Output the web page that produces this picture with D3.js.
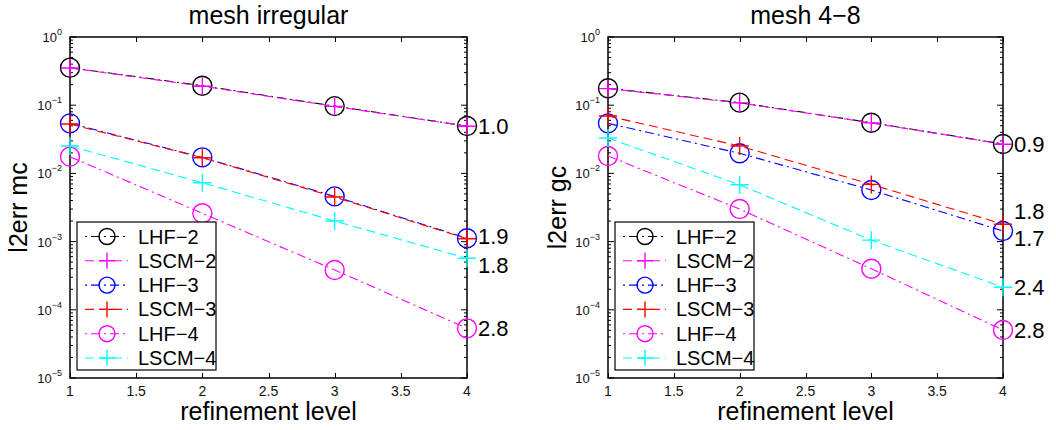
<!DOCTYPE html>
<html>
<head>
<meta charset="utf-8">
<script src="https://cdn.jsdelivr.net/npm/d3@7"></script>
<style>
  html, body { margin: 0; padding: 0; background: #fff; }
  svg { display: block; font-family: "Liberation Sans", Arial, Helvetica, sans-serif; }
</style>
</head>
<body>
<svg id="chart" width="1056" height="430"></svg>
<script>
// Refinement levels on the x axis
const levels = [1, 2, 3, 4];
const xTicks = [1, 1.5, 2, 2.5, 3, 3.5, 4];
const yDecades = [0, -1, -2, -3, -4, -5];

// Series names (legend order = draw order)
const seriesNames = ["LHF\u22122", "LSCM\u22122", "LHF\u22123", "LSCM\u22123", "LHF\u22124", "LSCM\u22124"];
const seriesColors = ["#000000", "#ff00ff", "#0000ff", "#ff0000", "#ff00ff", "#00ffff"];
const seriesMarkers = ["circle", "plus", "circle", "plus", "circle", "plus"];
const seriesDash = ["dashdot", "dash", "dashdot", "dash", "dashdot", "dash"];

// Mean-curvature error, irregular mesh
const irrLHF2  = [0.355, 0.193, 0.097, 0.0495];
const irrLSCM2 = [0.352, 0.190, 0.096, 0.0492];
const irrLHF3  = [0.0542, 0.0172, 0.0046, 0.00112];
const irrLSCM3 = [0.0530, 0.0170, 0.0045, 0.00110];
const irrLHF4  = [0.0176, 0.0026, 0.000384, 0.0000535];
const irrLSCM4 = [0.0252, 0.0073, 0.0020, 0.00057];

// Gaussian-curvature error, 4-8 mesh
const m48LHF2  = [0.177, 0.109, 0.0554, 0.0270];
const m48LSCM2 = [0.175, 0.108, 0.0550, 0.0268];
const m48LHF3  = [0.0542, 0.0197, 0.0057, 0.00143];
const m48LSCM3 = [0.0695, 0.0252, 0.0069, 0.00180];
const m48LHF4  = [0.0180, 0.0030, 0.00040, 0.0000506];
const m48LSCM4 = [0.0330, 0.0068, 0.00105, 0.000214];

// Convergence-rate labels at the last level ("" = no label)
const irrRates = ["1.0", "", "1.9", "", "2.8", "1.8"];
const m48Rates = ["0.9", "", "1.7", "1.8", "2.8", "2.4"];

const panels = [
  { title: "mesh irregular", ylabel: "l2err mc",
    series: [irrLHF2, irrLSCM2, irrLHF3, irrLSCM3, irrLHF4, irrLSCM4],
    rates: irrRates, rateDy: [0, 0, -2, 0, 0, 7],
    left: 70, right: 467, ylabX: 18 },
  { title: "mesh 4\u22128", ylabel: "l2err gc",
    series: [m48LHF2, m48LSCM2, m48LHF3, m48LSCM3, m48LHF4, m48LSCM4],
    rates: m48Rates, rateDy: [0, 0, 7, -13, 0, 0],
    left: 608, right: 1003, ylabX: 557 }
];

const plotTop = 37, plotBottom = 378;
const svg = d3.select("#chart");
const dashes = { dash: "9,5", dashdot: "9,4,2,4" };

function drawMarker(g, type, cx, cy, color, r) {
  if (type === "circle") {
    g.append("circle").attr("cx", cx).attr("cy", cy).attr("r", r)
      .attr("fill", "none").attr("stroke", color).attr("stroke-width", 1.4);
  } else {
    g.append("path")
      .attr("d", `M${cx - r},${cy}H${cx + r}M${cx},${cy - r}V${cy + r}`)
      .attr("stroke", color).attr("stroke-width", 1.4).attr("fill", "none");
  }
}

panels.forEach(p => {
  const g = svg.append("g");
  const x = d3.scaleLinear().domain([1, 4]).range([p.left, p.right]);
  const y = d3.scaleLog().domain([1e-5, 1]).range([plotBottom, plotTop]);

  // Box
  g.append("rect").attr("x", p.left).attr("y", plotTop)
    .attr("width", p.right - p.left).attr("height", plotBottom - plotTop)
    .attr("fill", "none").attr("stroke", "#000").attr("stroke-width", 1.5);

  // X ticks (bottom and top, inward)
  const tickG = g.append("g").attr("stroke", "#000").attr("stroke-width", 1);
  xTicks.forEach(t => {
    const xx = Math.round(x(t)) + 0.5;
    tickG.append("line").attr("x1", xx).attr("x2", xx).attr("y1", plotBottom).attr("y2", plotBottom - 5);
    tickG.append("line").attr("x1", xx).attr("x2", xx).attr("y1", plotTop).attr("y2", plotTop + 5);
  });
  g.append("g").selectAll("text").data(xTicks).join("text")
    .attr("x", d => x(d)).attr("y", 396)
    .attr("text-anchor", "middle").attr("font-size", 14).attr("fill", "#111")
    .text(d => d3.format("")(d));

  // Y ticks: decades and minor ticks, both sides
  yDecades.forEach(e => {
    const v = Math.pow(10, e);
    const yy = y(v);
    tickG.append("line").attr("x1", p.left).attr("x2", p.left + 6).attr("y1", yy).attr("y2", yy);
    tickG.append("line").attr("x1", p.right).attr("x2", p.right - 6).attr("y1", yy).attr("y2", yy);
    if (e > -5) {
      for (let m = 2; m <= 9; m++) {
        const ym = y(v / 10 * m);
        tickG.append("line").attr("x1", p.left).attr("x2", p.left + 3).attr("y1", ym).attr("y2", ym);
        tickG.append("line").attr("x1", p.right).attr("x2", p.right - 3).attr("y1", ym).attr("y2", ym);
      }
    }
    const lab = g.append("text").attr("x", p.left - 8).attr("y", yy + 5)
      .attr("text-anchor", "end").attr("fill", "#111");
    lab.append("tspan").attr("font-size", 13).text("10");
    lab.append("tspan").attr("font-size", 9).attr("dy", -7)
      .text(e === 0 ? "0" : "\u2212" + Math.abs(e));
  });

  // Titles and axis labels
  g.append("text").attr("x", (p.left + p.right) / 2).attr("y", 24)
    .attr("text-anchor", "middle").attr("font-size", 25).text(p.title);
  g.append("text").attr("x", (p.left + p.right) / 2).attr("y", 420)
    .attr("text-anchor", "middle").attr("font-size", 25).text("refinement level");
  g.append("text")
    .attr("transform", `translate(${p.ylabX + 9},${(plotTop + plotBottom) / 2}) rotate(-90)`)
    .attr("text-anchor", "middle").attr("font-size", 25).text(p.ylabel);

  // Series lines and markers
  const line = d3.line().x((d, i) => x(levels[i])).y(d => y(d));
  p.series.forEach((vals, si) => {
    const sg = g.append("g");
    sg.append("path").datum(vals).attr("d", line)
      .attr("fill", "none").attr("stroke", seriesColors[si]).attr("stroke-width", 1.1)
      .attr("stroke-dasharray", dashes[seriesDash[si]]);
    vals.forEach((v, i) => drawMarker(sg, seriesMarkers[si], x(levels[i]), y(v), seriesColors[si],
      seriesMarkers[si] === "circle" ? 9.5 : 9));
  });

  // Rate labels
  p.series.forEach((vals, si) => {
    if (!p.rates[si]) return;
    g.append("text").attr("x", x(4) + 11).attr("y", y(vals[3]) + p.rateDy[si] + 8)
      .attr("font-size", 22).attr("fill", "#000").text(p.rates[si]);
  });

  // Legend
  const lx = p.left + 7, ly = 222;
  const lg = g.append("g");
  lg.append("rect").attr("x", lx).attr("y", ly).attr("width", 139).attr("height", 148)
    .attr("fill", "#fff").attr("stroke", "#000").attr("stroke-width", 1.2);
  seriesNames.forEach((name, si) => {
    const cy = ly + 14.5 + si * 24.3;
    lg.append("line").attr("x1", lx + 8).attr("x2", lx + 51).attr("y1", cy).attr("y2", cy)
      .attr("stroke", seriesColors[si]).attr("stroke-width", 1.1)
      .attr("stroke-dasharray", seriesDash[si] === "dash" ? "9,5" : "2,4,9,4");
    drawMarker(lg, seriesMarkers[si], lx + 30, cy, seriesColors[si], 8);
    lg.append("text").attr("x", lx + 61).attr("y", cy + 7).attr("font-size", 20).text(name);
  });
});
</script>
</body>
</html>
